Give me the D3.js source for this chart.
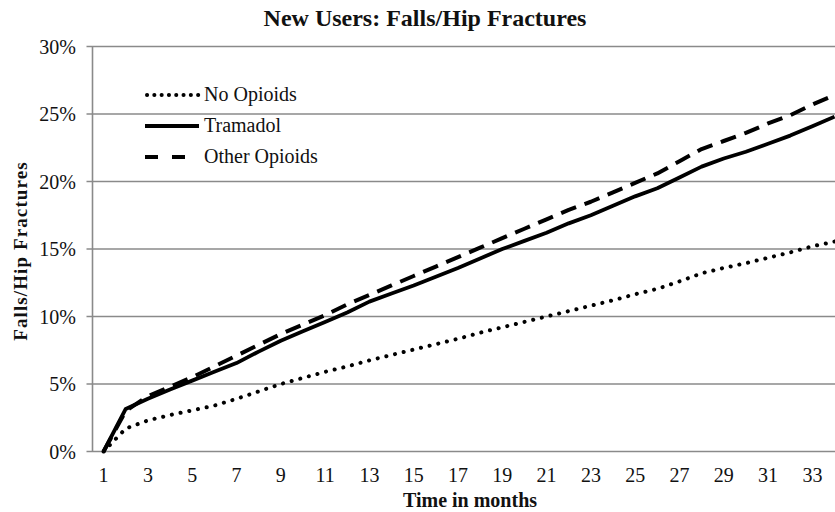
<!DOCTYPE html>
<html>
<head>
<meta charset="utf-8">
<script src="https://cdn.jsdelivr.net/npm/d3@7"></script>
<style>
    body { margin: 0; background: #fff; }
    svg { display: block; }
    text { font-family: "Liberation Serif", "Times New Roman", serif; fill: #111; }
</style>
</head>
<body>
<div id="canvas"></div>
<script>
// data (percent)
var months = d3.range(1, 35);
var noOpioids = [0, 1.7, 2.3, 2.7, 3.05, 3.4, 3.9, 4.45, 5.0, 5.45, 5.9, 6.3, 6.75, 7.15, 7.55, 7.95, 8.35, 8.8,
    9.2, 9.6, 10.0, 10.4, 10.8, 11.2, 11.65, 12.05, 12.6, 13.2, 13.6, 13.95, 14.35, 14.75, 15.2, 15.55];
var tramadol = [0, 3.15, 3.9, 4.6, 5.25, 5.9, 6.55, 7.4, 8.2, 8.9, 9.6, 10.3, 11.1, 11.7, 12.3, 12.95, 13.6, 14.3,
    15.0, 15.6, 16.2, 16.9, 17.5, 18.2, 18.9, 19.5, 20.3, 21.1, 21.7, 22.2, 22.8, 23.4, 24.1, 24.8];
var otherOpioids = [0, 3.0, 4.1, 4.8, 5.5, 6.3, 7.1, 7.9, 8.7, 9.4, 10.1, 10.9, 11.6, 12.3, 13.0, 13.7, 14.4, 15.1,
    15.8, 16.5, 17.2, 17.9, 18.5, 19.2, 19.9, 20.6, 21.5, 22.4, 23.0, 23.6, 24.3, 24.9, 25.7, 26.4];
var yTicks = [0, 5, 10, 15, 20, 25, 30];
var xTicks = d3.range(1, 34, 2);
var seriesNames = ["No Opioids", "Tramadol", "Other Opioids"];

var width = 835, height = 512;
var plotLeft = 92.5, plotBottom = 451.5, plotTop = 46.5, step = 22.15;

var svg = d3.select("#canvas").append("svg")
    .attr("width", width)
    .attr("height", height);

// scales, plot runs past the right edge of the picture
var x = d3.scaleLinear().domain([0.5, 36.5]).range([plotLeft, plotLeft + 36 * step]);
var y = d3.scaleLinear().domain([0, 30]).range([plotBottom, plotTop]);

// gridlines
svg.append("g").selectAll("line")
    .data(yTicks)
    .enter()
    .append("line")
    .attr("x1", plotLeft - 6)
    .attr("x2", x(36.5))
    .attr("y1", function (d) { return y(d); })
    .attr("y2", function (d) { return y(d); })
    .style("stroke", "#8a8a8a")
    .style("stroke-width", 1.6);

// y axis line
svg.append("line")
    .attr("x1", plotLeft).attr("x2", plotLeft)
    .attr("y1", y(30)).attr("y2", y(0))
    .style("stroke", "#8a8a8a")
    .style("stroke-width", 1.6);

// y tick labels
svg.append("g").selectAll("text")
    .data(yTicks)
    .enter()
    .append("text")
    .attr("x", 76)
    .attr("y", function (d) { return y(d); })
    .attr("dy", "0.35em")
    .attr("text-anchor", "end")
    .style("font-size", "20px")
    .text(function (d) { return d + "%"; });

// x tick labels
svg.append("g").selectAll("text")
    .data(xTicks)
    .enter()
    .append("text")
    .attr("x", function (d) { return x(d); })
    .attr("y", 482)
    .attr("text-anchor", "middle")
    .style("font-size", "20px")
    .text(function (d) { return d; });

// titles
svg.append("text")
    .attr("x", 425).attr("y", 26)
    .attr("text-anchor", "middle")
    .style("font-size", "24px")
    .style("font-weight", "bold")
    .text("New Users: Falls/Hip Fractures");

svg.append("text")
    .attr("x", 470).attr("y", 507)
    .attr("text-anchor", "middle")
    .style("font-size", "20px")
    .style("font-weight", "bold")
    .text("Time in months");

svg.append("text")
    .attr("transform", "translate(27,251) rotate(-90)")
    .attr("text-anchor", "middle")
    .style("font-size", "19px")
    .style("font-weight", "bold")
    .style("letter-spacing", "1.1px")
    .text("Falls/Hip Fractures");

// line styles
var styles = [
    { dash: "0.1,8.8", width: 4, cap: "round" },
    { dash: null, width: 3.8, cap: "butt" },
    { dash: "16,9", width: 4, cap: "butt" }
];
var allSeries = [noOpioids, tramadol, otherOpioids];

var line = d3.line()
    .x(function (d, i) { return x(months[i]); })
    .y(function (d) { return y(d); });

svg.append("g").selectAll("path")
    .data(allSeries)
    .enter()
    .append("path")
    .attr("d", line)
    .style("fill", "none")
    .style("stroke", "#000")
    .style("stroke-width", function (d, i) { return styles[i].width; })
    .style("stroke-linecap", function (d, i) { return styles[i].cap; })
    .style("stroke-linejoin", "round")
    .style("stroke-dasharray", function (d, i) { return styles[i].dash; });

// legend
var legendY = [95, 126, 157];
var legend = svg.append("g").selectAll("g")
    .data(seriesNames)
    .enter()
    .append("g")
    .attr("transform", function (d, i) { return "translate(0," + legendY[i] + ")"; });

legend.append("line")
    .attr("x1", function (d, i) { return i === 0 ? 147 : 145; })
    .attr("x2", 199)
    .style("stroke", "#000")
    .style("stroke-width", function (d, i) { return styles[i].width; })
    .style("stroke-linecap", function (d, i) { return styles[i].cap; })
    .style("stroke-dasharray", function (d, i) { return i === 0 ? "0.1,7.2" : (i === 2 ? "13,14" : null); });

legend.append("text")
    .attr("x", 204)
    .attr("y", 6)
    .style("font-size", "20px")
    .text(function (d) { return d; });
</script>
</body>
</html>
